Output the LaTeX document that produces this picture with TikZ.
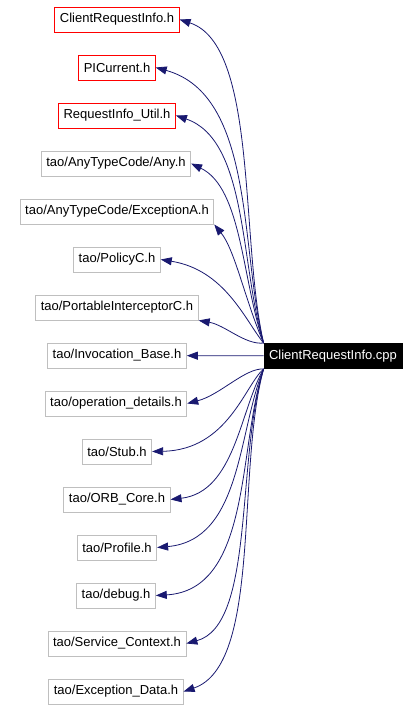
\documentclass[tikz,border=0pt]{standalone}
\usepackage{fontspec}
\setmainfont{Liberation Sans}
\usepackage{tikz}
\usetikzlibrary{arrows.meta}
\definecolor{edgeblue}{RGB}{25,25,112}
\definecolor{boxgray}{RGB}{191,191,191}

\tikzset{
  hbox/.style={draw=boxgray,line width=0.9pt,inner xsep=5pt,minimum height=25pt,font=\fontsize{13}{15}\selectfont},
  redbox/.style={hbox,draw=red},
  mainbox/.style={hbox,draw=black,fill=black,text=white},
  dep/.style={edgeblue,line width=0.8pt,-{Triangle[length=11pt,width=8pt]}}
}

\begin{document}
\begin{tikzpicture}[x=1pt,y=-1pt]
        \useasboundingbox (0,0) rectangle (419,710);
        \node[mainbox] (cpp) at (333,356) {ClientRequestInfo.cpp};
        \node[redbox] (crih) at (117,19.5) {ClientRequestInfo.h};
        \node[redbox] (picur) at (117,67.5) {PICurrent.h};
        \node[redbox] (riutil) at (117,115.5) {RequestInfo\_Util.h};
        \node[hbox] (any) at (116,163.5) {tao/AnyTypeCode/Any.h};
        \node[hbox] (exca) at (117,211.5) {tao/AnyTypeCode/ExceptionA.h};
        \node[hbox] (policy) at (117,259.5) {tao/PolicyC.h};
        \node[hbox] (pic) at (117,307.5) {tao/PortableInterceptorC.h};
        \node[hbox] (invoc) at (117,355.5) {tao/Invocation\_Base.h};
        \node[hbox] (opdet) at (116,403.5) {tao/operation\_details.h};
        \node[hbox] (stub) at (117,451.5) {tao/Stub.h};
        \node[hbox] (orb) at (117,499.5) {tao/ORB\_Core.h};
        \node[hbox] (profile) at (117,547.5) {tao/Profile.h};
        \node[hbox] (debug) at (116,595.5) {tao/debug.h};
        \node[hbox] (svcctx) at (117,643.5) {tao/Service\_Context.h};
        \node[hbox] (excdata) at (116,691.5) {tao/Exception\_Data.h};
        % edges going up
        \draw[dep] (cpp.north west) .. controls (240,240) and (258,45) .. (crih.east);
        \draw[dep] (cpp.north west) .. controls (240,250) and (255,95) .. (picur.east);
        \draw[dep] (cpp.north west) .. controls (240,265) and (248,140) .. (riutil.east);
        \draw[dep] (cpp.north west) .. controls (242,280) and (242,188) .. (any.east);
        \draw[dep] (cpp.north west) .. controls (245,300) and (235,250) .. (exca.south east);
        \draw[dep] (cpp.north west) .. controls (245,320) and (225,270) .. (policy.east);
        \draw[dep] (cpp.north west) .. controls (245,345) and (225,325) .. (pic.south east);
        \draw[dep] (cpp) -- (invoc);
        % edges going down
        \draw[dep] (cpp.south west) .. controls (245,368) and (220,395) .. (opdet.east);
        \draw[dep] (cpp.south west) .. controls (245,385) and (228,450) .. (stub.east);
        \draw[dep] (cpp.south west) .. controls (240,410) and (235,492) .. (orb.east);
        \draw[dep] (cpp.south west) .. controls (238,430) and (242,540) .. (profile.east);
        \draw[dep] (cpp.south west) .. controls (238,445) and (252,590) .. (debug.east);
        \draw[dep] (cpp.south west) .. controls (236,460) and (255,625) .. (svcctx.east);
        \draw[dep] (cpp.south west) .. controls (236,470) and (262,665) .. (excdata.east);
      \end{tikzpicture}
\end{document}
